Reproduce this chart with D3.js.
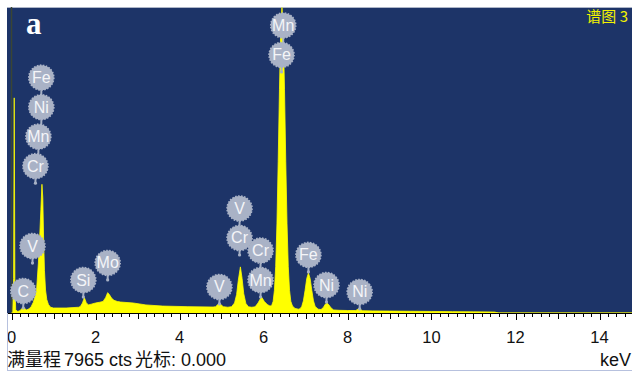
<!DOCTYPE html>
<html>
<head>
<meta charset="utf-8">
<script src="https://cdn.jsdelivr.net/npm/d3@7/dist/d3.min.js"></script>
<style>
  html, body { margin: 0; padding: 0; background: #ffffff; }
  svg { display: block; }
</style>
</head>
<body>
<svg id="chart" width="632" height="373"></svg>
<script>
// EDS spectrum: energy (keV) and counts
const energyKeV = [
  0.00, 0.03, 0.05, 0.065, 0.08, 0.10, 0.15, 0.20, 0.25, 0.28, 0.31, 0.36, 0.42, 0.47,
  0.52, 0.57, 0.60, 0.64, 0.67, 0.70, 0.725, 0.745, 0.765, 0.785, 0.81, 0.84, 0.88, 0.93,
  1.00, 1.30, 1.60, 1.64, 1.69, 1.735, 1.78, 1.83, 1.90, 2.00, 2.10, 2.18, 2.24, 2.29,
  2.33, 2.38, 2.44, 2.52, 2.60, 2.90, 3.20, 3.60, 4.20, 4.80, 4.86, 4.93, 4.98, 5.04,
  5.15, 5.24, 5.31, 5.36, 5.40, 5.45, 5.49, 5.53, 5.58, 5.64, 5.72, 5.80, 5.87, 5.95,
  6.02, 6.09, 6.14, 6.19, 6.23, 6.26, 6.29, 6.32, 6.35, 6.38, 6.41, 6.44, 6.47, 6.50,
  6.53, 6.56, 6.59, 6.62, 6.65, 6.69, 6.75, 6.83, 6.87, 6.91, 6.95, 6.99, 7.03, 7.07,
  7.11, 7.15, 7.19, 7.23, 7.30, 7.37, 7.43, 7.47, 7.51, 7.55, 7.61, 7.67, 7.80, 8.00,
  8.20, 8.26, 8.30, 8.36, 8.60, 9.00, 9.50, 10.00, 10.50, 11.00, 11.50, 11.60, 15.00
];
const counts = [
  0, 0, 900, 5600, 900, 80, 40, 60, 120, 160, 120, 80, 110, 170,
  280, 470, 650, 1300, 1950, 2700, 3350, 3000, 1900, 1100, 600, 350, 220, 150,
  130, 130, 150, 170, 260, 400, 270, 210, 230, 260, 280, 300, 400, 530,
  480, 390, 330, 300, 285, 260, 210, 180, 165, 155, 165, 240, 225, 165,
  150, 165, 260, 480, 850, 1200, 900, 500, 250, 160, 150, 160, 260, 420,
  300, 220, 190, 180, 305, 590, 1205, 2320, 3950, 5810, 7350, 7950, 7350, 5810,
  3950, 2320, 1205, 590, 305, 180, 120, 100, 110, 170, 316, 590, 900, 1040,
  900, 590, 316, 170, 100, 90, 150, 230, 260, 220, 130, 80, 70, 65,
  65, 110, 100, 60, 55, 50, 45, 40, 35, 30, 25, 0, 0
];

// Axis settings
const fullScale = 7965;
const xTickLabels = [0, 2, 4, 6, 8, 10, 12, 14];

// Element markers: label, line energy, count level at the stem foot, stack position
const markerLabels = ["Cr", "Mn", "Ni", "Fe", "V", "C", "Si", "Mo", "V", "Cr", "V", "Mn", "Cr", "Fe", "Mn", "Fe", "Ni", "Ni"];
const markerKeV    = [0.57, 0.64, 0.71, 0.71, 0.50, 0.28, 1.71, 2.29, 4.95, 5.43, 5.43, 5.93, 5.93, 6.43, 6.47, 7.07, 7.50, 8.29];
const markerFoot   = [3380, 3380, 3380, 3380, 1300, 130, 415, 860, 235, 1510, 1510, 415, 415, 6275, 6275, 1070, 285, 105];
const markerStack  = [0, 1, 2, 3, 0, 0, 0, 0, 0, 0, 1, 0, 1, 0, 1, 0, 0, 0];

const svg = d3.select("#chart");
const W = 632, H = 373;
const plot = { left: 7, top: 7, right: 632, bottom: 313 };

const x = d3.scaleLinear().domain([0, 15]).range([11.5, 641.5]);
const y = d3.scaleLinear().domain([0, fullScale]).range([plot.bottom, plot.top]);

svg.append("rect").attr("width", W).attr("height", H).attr("fill", "#ffffff");

// Plot background
svg.append("rect")
  .attr("x", plot.left).attr("y", plot.top)
  .attr("width", plot.right - plot.left).attr("height", plot.bottom - plot.top)
  .attr("fill", "#1d3468");
svg.append("line")
  .attr("x1", plot.left).attr("x2", plot.right)
  .attr("y1", plot.top + 0.5).attr("y2", plot.top + 0.5)
  .attr("stroke", "#aeb6c8").attr("stroke-width", 1);

svg.append("clipPath").attr("id", "plotClip")
  .append("rect")
  .attr("x", plot.left).attr("y", plot.top)
  .attr("width", plot.right - plot.left).attr("height", plot.bottom - plot.top);

const g = svg.append("g").attr("clip-path", "url(#plotClip)");

const spectrum = energyKeV.map((e, i) => ({ e, c: counts[i] }));

// Cursor line at 0.000 keV
g.append("line")
  .attr("x1", x(0)).attr("x2", x(0))
  .attr("y1", plot.top).attr("y2", plot.bottom)
  .attr("stroke", "#3a4534").attr("stroke-width", 1.5);

// Spectrum fill
g.append("path")
  .datum(spectrum)
  .attr("d", d3.area().x(d => x(d.e)).y0(y(0)).y1(d => y(d.c)))
  .attr("fill", "#ffff00")
  .attr("stroke", "#ffff00")
  .attr("stroke-width", 0.8);

// Element markers
const markerR = 12.5, footGap = 17, stackGap = 29.5;
const markers = markerLabels.map((lab, i) => {
  const mx = x(markerKeV[i]);
  const footY = y(markerFoot[i]);
  const cy = footY - footGap - markerStack[i] * stackGap;
  return { lab, mx, cy, stemEnd: cy + (markerStack[i] === 0 ? footGap : stackGap) };
});

const mg = g.append("g");
mg.selectAll("line.stem").data(markers).join("line")
  .attr("class", "stem")
  .attr("x1", d => d.mx).attr("x2", d => d.mx)
  .attr("y1", d => d.cy).attr("y2", d => d.stemEnd)
  .attr("stroke", "#a7b1c5").attr("stroke-width", 2);
mg.selectAll("circle.knob").data(markers).join("circle")
  .attr("class", "knob")
  .attr("cx", d => d.mx).attr("cy", d => d.stemEnd)
  .attr("r", 1.6).attr("fill", "#a7b1c5");
mg.selectAll("circle.badge").data(markers).join("circle")
  .attr("class", "badge")
  .attr("cx", d => d.mx).attr("cy", d => d.cy)
  .attr("r", markerR)
  .attr("fill", "#a9b2c6")
  .attr("stroke", "#a9b2c6")
  .attr("stroke-width", 1.6)
  .attr("stroke-dasharray", "1.6 1.4");
mg.selectAll("text").data(markers).join("text")
  .attr("x", d => d.mx).attr("y", d => d.cy + 5.5)
  .attr("text-anchor", "middle")
  .attr("font-family", "'Liberation Sans', Arial, sans-serif")
  .attr("font-size", 16)
  .attr("fill", "#f4f5f8")
  .text(d => d.lab);

// Panel letter and spectrum name
svg.append("text")
  .attr("x", 26).attr("y", 34)
  .attr("font-family", "'Liberation Serif', 'Times New Roman', serif")
  .attr("font-weight", "bold")
  .attr("font-size", 31)
  .attr("fill", "#ffffff")
  .text("a");

svg.append("text")
  .attr("x", 628).attr("y", 22)
  .attr("text-anchor", "end")
  .attr("font-family", "'Noto Sans CJK SC', sans-serif")
  .attr("font-size", 15)
  .attr("fill", "#f2f200")
  .text("谱图 3");

// X axis
const minorTicks = d3.range(0, 15.01, 0.2).map(v => +v.toFixed(1));
const unitTicks = d3.range(0, 16, 1);
const axisG = svg.append("g");
axisG.append("line")
  .attr("x1", plot.left).attr("x2", plot.right)
  .attr("y1", plot.bottom + 0.5).attr("y2", plot.bottom + 0.5)
  .attr("stroke", "#000000").attr("stroke-width", 1.2);

axisG.selectAll("line.minor").data(minorTicks.filter(v => x(v) <= plot.right)).join("line")
  .attr("class", "minor")
  .attr("x1", d => Math.round(x(d)) + 0.5).attr("x2", d => Math.round(x(d)) + 0.5)
  .attr("y1", plot.bottom).attr("y2", plot.bottom + 4)
  .attr("stroke", "#000000").attr("stroke-width", 1);
axisG.selectAll("line.unit").data(unitTicks.filter(v => x(v) <= plot.right)).join("line")
  .attr("class", "unit")
  .attr("x1", d => Math.round(x(d)) + 0.5).attr("x2", d => Math.round(x(d)) + 0.5)
  .attr("y1", plot.bottom).attr("y2", d => plot.bottom + (d % 2 === 0 ? 7 : 6))
  .attr("stroke", "#000000").attr("stroke-width", 1);

axisG.selectAll("text.tick").data(xTickLabels).join("text")
  .attr("class", "tick")
  .attr("x", d => x(d)).attr("y", 343)
  .attr("text-anchor", "middle")
  .attr("font-family", "'Liberation Sans', Arial, sans-serif")
  .attr("font-size", 16.5)
  .attr("fill", "#111111")
  .text(d => d);

// Frame below the plot
svg.append("line")
  .attr("x1", plot.left + 0.5).attr("x2", plot.left + 0.5)
  .attr("y1", plot.bottom).attr("y2", 370.5)
  .attr("stroke", "#b7c1de").attr("stroke-width", 1);
svg.append("line")
  .attr("x1", plot.left).attr("x2", plot.right)
  .attr("y1", 370.5).attr("y2", 370.5)
  .attr("stroke", "#b7c1de").attr("stroke-width", 1);

// Status line: full scale and cursor position
const status = svg.append("text")
  .attr("x", 7).attr("y", 366)
  .attr("font-family", "'Liberation Sans', Arial, sans-serif")
  .attr("font-size", 18)
  .attr("fill", "#111111");
status.append("tspan").attr("font-family", "'Noto Sans CJK SC', sans-serif").attr("font-size", 18).text("满量程");
status.append("tspan").attr("dx", 3).text("7965 cts");
status.append("tspan").attr("dx", 3).attr("font-family", "'Noto Sans CJK SC', sans-serif").attr("font-size", 18).text("光标");
status.append("tspan").text(": 0.000");

svg.append("text")
  .attr("x", 631).attr("y", 366)
  .attr("text-anchor", "end")
  .attr("font-family", "'Liberation Sans', Arial, sans-serif")
  .attr("font-size", 18)
  .attr("fill", "#111111")
  .text("keV");
</script>
</body>
</html>
